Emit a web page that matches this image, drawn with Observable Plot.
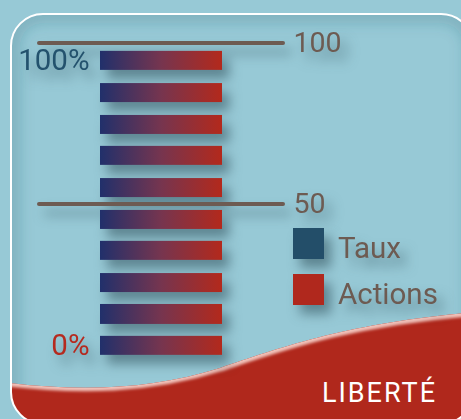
<!DOCTYPE html>
<html>
<head>
<meta charset="utf-8">
<script src="https://cdn.jsdelivr.net/npm/d3@7"></script>
<script src="https://cdn.jsdelivr.net/npm/@observablehq/plot@0.6"></script>
<style>
  html, body { margin: 0; padding: 0; background: #97c9d6; }
  #wrap { position: relative; width: 461px; height: 419px; overflow: hidden; font-family: Roboto, "DejaVu Sans", sans-serif; }
  #bg, #chart, #legend { position: absolute; left: 0; top: 0; }
  #chart svg { background: transparent; filter: drop-shadow(7px 9px 6px rgba(35,65,75,0.5)); overflow: visible; }
  #legend { filter: drop-shadow(7px 9px 6px rgba(35,65,75,0.5)); }
</style>
</head>
<body>
<div id="wrap">
  <svg id="bg" width="461" height="419">
    <defs>
      <clipPath id="card"><rect x="11" y="14" width="462" height="410" rx="32"/></clipPath>
      <clipPath id="waveClip"><path d="M0,382 C80,392 150,390 220,368 C280,348 350,322 480,312 L480,440 L0,440 Z"/></clipPath>
      <filter id="blurS" x="-20%" y="-20%" width="140%" height="140%"><feGaussianBlur stdDeviation="1.6"/></filter>
      <filter id="blurL" x="-20%" y="-20%" width="140%" height="140%"><feGaussianBlur stdDeviation="7"/></filter>
      <linearGradient id="barGrad" x1="0" x2="1" y1="0" y2="0">
        <stop offset="0" stop-color="#21306b"/>
        <stop offset="0.5" stop-color="#76354f"/>
        <stop offset="1" stop-color="#b3291c"/>
      </linearGradient>
    </defs>
    <g clip-path="url(#card)">
      <rect x="11" y="14" width="462" height="410" rx="32" fill="none" stroke="rgba(40,90,105,0.22)" stroke-width="18" filter="url(#blurL)"/>
      <path d="M0,382 C80,392 150,390 220,368 C280,348 350,322 480,312 L480,440 L0,440 Z" fill="#b0281c"/>
      <g clip-path="url(#waveClip)">
        <path d="M0,382 C80,392 150,390 220,368 C280,348 350,322 480,312" fill="none" stroke="#f1c2ba" stroke-width="7" filter="url(#blurS)"/>
      </g>
    </g>
    <rect x="11" y="14" width="462" height="410" rx="32" fill="none" stroke="#ffffff" stroke-width="2"/>
    <text x="437" y="402" text-anchor="end" fill="#ffffff" font-family="Roboto, 'DejaVu Sans', sans-serif" font-size="27" letter-spacing="2">LIBERTÉ</text>
  </svg>
  <div id="chart"></div>
  <svg id="legend" width="461" height="419"></svg>
</div>
<script>
// ---- data ----
const barTop    = [97.4, 87.4, 77.5, 67.9, 57.9, 48.0, 38.4, 28.4, 18.8, 8.9];
const barBottom = [91.5, 81.5, 71.6, 62.0, 52.0, 42.1, 32.5, 22.5, 12.6, 3.0];
const barValue  = [100, 100, 100, 100, 100, 100, 100, 100, 100, 100];
const refLines  = [100, 50];
const refExtent = [-50, 150];
const endLabels = ["100%", "0%"];
const endLabelColors = ["#23526d", "#b52a1f"];
const legendNames  = ["Taux", "Actions"];
const legendColors = ["#234e69", "#b0281d"];

const bars = barTop.map((t, i) => ({top: t, bottom: barBottom[i], value: barValue[i]}));
const ends = [
  {label: endLabels[0], y: (barTop[0] + barBottom[0]) / 2, color: endLabelColors[0]},
  {label: endLabels[1], y: (barTop[barTop.length - 1] + barBottom[barBottom.length - 1]) / 2, color: endLabelColors[1]}
];

const chart = Plot.plot({
  width: 461,
  height: 419,
  margin: 0,
  style: {background: "transparent", fontFamily: "Roboto, 'DejaVu Sans', sans-serif"},
  x: {domain: [0, 100], range: [100, 222], axis: null},
  y: {domain: [0, 100], range: [364.5, 42.5], axis: null},
  marks: [
    Plot.rect(bars, {x1: 0, x2: "value", y1: "bottom", y2: "top", fill: "url(#barGrad)"}),
    Plot.ruleY(refLines, {y: d => d, x1: refExtent[0], x2: refExtent[1], stroke: "#6d5b52", strokeWidth: 4, strokeLinecap: "round"}),
    Plot.text(refLines, {x: refExtent[1], y: d => d, text: d => String(d), dx: 10, textAnchor: "start", fill: "#6d5b52", fontSize: 28.5}),
    Plot.text(ends, {x: 0, y: "y", text: "label", fill: d => d.color, dx: -11, textAnchor: "end", fontSize: 29.5})
  ]
});
document.getElementById("chart").appendChild(chart);

// legend
const lg = d3.select("#legend");
const items = lg.selectAll("g").data(legendNames).join("g")
  .attr("transform", (d, i) => `translate(293, ${228 + i * 46})`);
items.append("rect").attr("width", 31).attr("height", 31).attr("fill", (d, i) => legendColors[i]);
items.append("text").attr("x", 45).attr("y", 30)
  .attr("font-family", "Roboto, 'DejaVu Sans', sans-serif").attr("font-size", 29.5)
  .attr("fill", "#6d5b52").text(d => d);
</script>
</body>
</html>
